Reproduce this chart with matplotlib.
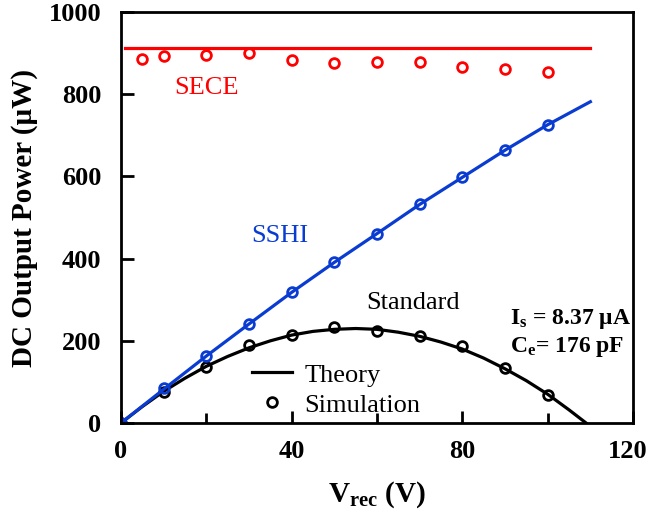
import matplotlib
matplotlib.use('Agg')
import matplotlib.pyplot as plt
import matplotlib.transforms as mtransforms
import numpy as np

plt.rcParams['font.family'] = 'Liberation Serif'
plt.rcParams['mathtext.fontset'] = 'custom'
plt.rcParams['mathtext.rm'] = 'Liberation Serif'
plt.rcParams['mathtext.bf'] = 'Liberation Serif:bold'
plt.rcParams['mathtext.it'] = 'Liberation Serif:italic'

# theory curves
v_std_th = [0, 5, 10, 15, 20, 25, 30, 35, 40, 45, 50, 55, 60, 65, 70, 75, 80, 85, 90, 95, 100, 105, 109]
p_std_th = [0, 40, 77, 109, 138, 162, 183, 200, 214, 223, 228, 230, 228, 221, 211, 197, 180, 158, 132, 103, 70, 32, 0]
v_sshi_th = [0, 10, 20, 30, 40, 50, 60, 70, 80, 90, 100, 110]
p_sshi_th = [0, 82, 163, 241, 318, 391, 461, 532, 598, 664, 726, 782]
v_sece_th = [1, 110]
p_sece_th = [913, 913]

# simulation points
v_sim = [0, 10, 20, 30, 40, 50, 60, 70, 80, 90, 100]
p_std_sim = [0, 75, 137, 190, 214, 233, 224, 212, 188, 135, 68]
p_sshi_sim = [0, 84, 164, 241, 318, 391, 460, 534, 598, 664, 725]
v_sece_sim = [5, 10, 20, 30, 40, 50, 60, 70, 80, 90, 100]
p_sece_sim = [887, 893, 895, 901, 883, 877, 879, 879, 867, 862, 855]

blue = '#0a3cd2'
red = '#ff0000'

fig = plt.figure(figsize=(6.49, 5.11), dpi=100)
ax = fig.add_axes([0.1864, 0.1722, 0.789, 0.804])

ax.plot(v_sece_th, p_sece_th, color=red, lw=2.3)
ax.plot(v_sece_sim, p_sece_sim, 'o', mfc='none', mec=red, ms=7, mew=2)
ax.plot(v_std_th, p_std_th, color='black', lw=2.3)
ax.plot(v_sim, p_std_sim, 'o', mfc='none', mec='black', ms=7, mew=2)
ax.plot(v_sshi_th, p_sshi_th, color=blue, lw=2.3)
ax.plot(v_sim, p_sshi_sim, 'o', mfc='none', mec=blue, ms=7, mew=2)

# legend handles
h1, = ax.plot([], [], color='black', lw=2.3, label='Theory')
h2, = ax.plot([], [], 'o', mfc='none', mec='black', ms=7, mew=2, label='Simulation')
ax.legend(handles=[h1, h2], loc='upper left', bbox_to_anchor=(0.23, 0.178), frameon=False,
          fontsize=19, handlelength=1.5, handletextpad=0.5, labelspacing=0.25, borderpad=0)

ax.text(20, 815, 'SECE', color=red, fontsize=19, ha='center', va='center')
ax.text(37.2, 455, 'SSHI', color=blue, fontsize=19, ha='center', va='center')
ax.text(68.4, 292, 'Standard', color='black', fontsize=19, ha='center', va='center')
ax.text(91.2, 252, r'I$_\mathbf{s}$ = 8.37 μA', fontsize=17, fontweight='bold', ha='left', va='center')
ax.text(91.2, 186, r'C$_\mathbf{e}$= 176 pF', fontsize=17, fontweight='bold', ha='left', va='center')

ax.set_xlim(0, 120)
ax.set_ylim(0, 1000)
ax.set_xticks([0, 40, 80, 120])
ax.set_xticks([20, 60, 100], minor=True)
ax.set_yticks([0, 200, 400, 600, 800, 1000])
ax.tick_params(direction='in', length=9, width=2, labelsize=19, top=False, right=False)
ax.tick_params(axis='x', pad=12)
ax.tick_params(axis='y', pad=14)
ax.tick_params(which='minor', direction='in', length=7, width=2)
for lab in ax.get_xticklabels() + ax.get_yticklabels():
    lab.set_fontweight('bold')
# last x label sits a bit left so it stays inside the picture
last = ax.get_xticklabels()[-1]
last.set_transform(last.get_transform() + mtransforms.ScaledTranslation(-5 / 100, 0, fig.dpi_scale_trans))
for s in ax.spines.values():
    s.set_linewidth(2)

ax.set_xlabel(r'V$_\mathbf{rec}$ (V)', fontsize=21, fontweight='bold', labelpad=12)
ax.set_ylabel('DC Output Power (μW)', fontsize=21, fontweight='bold', labelpad=8)

fig.savefig('out.png', dpi=100)
